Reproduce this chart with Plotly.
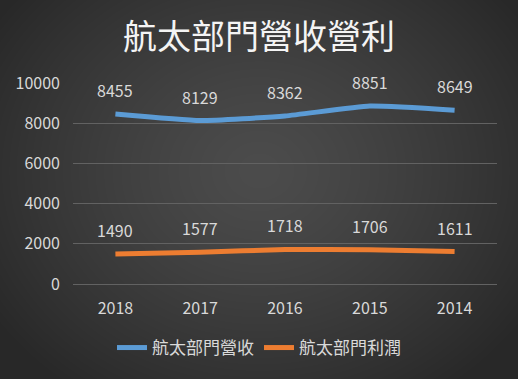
import base64, zlib, struct
import numpy as np
import plotly.graph_objects as go

years = ["2018", "2017", "2016", "2015", "2014"]
revenue = [8455, 8129, 8362, 8851, 8649]
profit = [1490, 1577, 1718, 1706, 1611]
rev_name = "航太部門營收"
prof_name = "航太部門利潤"
title = "航太部門營收營利"

W, H = 518, 379
ML, MR, MT, MB = 73, 21, 82, 94

# radial gradient background image
yy, xx = np.mgrid[0:H, 0:W]
cx, cy = W * 0.5, H * 0.45
d = np.sqrt(((xx - cx) / (W * 0.62)) ** 2 + ((yy - cy) / (H * 0.72)) ** 2)
d = np.clip(d, 0, 1)
val = (76 - (76 - 40) * d ** 1.3).astype(np.uint8)
img = np.stack([val, val, val], axis=-1)
raw = b"".join(b"\x00" + img[r].tobytes() for r in range(H))
def chunk(t, data):
    c = struct.pack(">I", len(data)) + t + data
    return c + struct.pack(">I", zlib.crc32(t + data) & 0xffffffff)
png = b"\x89PNG\r\n\x1a\n" + chunk(b"IHDR", struct.pack(">IIBBBBB", W, H, 8, 2, 0, 0, 0)) \
      + chunk(b"IDAT", zlib.compress(raw, 9)) + chunk(b"IEND", b"")
uri = "data:image/png;base64," + base64.b64encode(png).decode()

pw = W - ML - MR
ph = H - MT - MB

font = "Noto Sans CJK TC, sans-serif"
txt = "#d9d9d9"

fig = go.Figure()
fig.add_trace(go.Scatter(x=years, y=revenue, name=rev_name, mode="lines",
                         line=dict(color="#5b9bd5", width=5, shape="spline", smoothing=0.45)))
fig.add_trace(go.Scatter(x=years, y=profit, name=prof_name, mode="lines",
                         line=dict(color="#ed7d31", width=5, shape="spline", smoothing=0.45)))

ann = []
for series in (revenue, profit):
    for i, yv in enumerate(series):
        ann.append(dict(x=i, y=yv, text=str(yv), showarrow=False, yshift=24,
                        xref="x", yref="y", font=dict(size=16, color=txt, family=font)))

fig.update_layout(
    width=W, height=H,
    margin=dict(l=ML, r=MR, t=MT, b=MB),
    paper_bgcolor="#3c3c3c", plot_bgcolor="rgba(0,0,0,0)",
    title=dict(text=title, x=0.5, xref="container", xanchor="center",
               y=1 - 37 / H, yref="container", yanchor="middle",
               font=dict(size=34, color="#f4f4f4", family=font)),
    xaxis=dict(type="category", categoryorder="array", categoryarray=years,
               range=[-0.5, len(years) - 0.5], showgrid=False, showline=False,
               ticks="", zeroline=False, ticklabelstandoff=12,
               tickfont=dict(size=16, color=txt, family=font)),
    yaxis=dict(range=[-50, 10050], dtick=2000, tick0=0, tickformat="d", showgrid=True,
               gridcolor="#626262", gridwidth=1, zeroline=True, zerolinecolor="#626262",
               zerolinewidth=1, showline=False, ticks="",
               ticklabelstandoff=12,
               tickfont=dict(size=16, color=txt, family=font)),
    legend=dict(orientation="h", x=0.5, xref="container", xanchor="center",
                y=1 - 348 / H, yref="container", yanchor="middle",
                font=dict(size=17, color=txt, family=font), bgcolor="rgba(0,0,0,0)"),
    annotations=ann,
    images=[dict(source=uri, xref="paper", yref="paper",
                 x=-ML / pw, y=1 + MT / ph, sizex=W / pw, sizey=H / ph,
                 xanchor="left", yanchor="top", sizing="stretch", layer="below")],
)

fig.write_html("out.html", config={"displayModeBar": False},
               post_script="document.body.style.margin='0';document.body.style.overflow='hidden';")
